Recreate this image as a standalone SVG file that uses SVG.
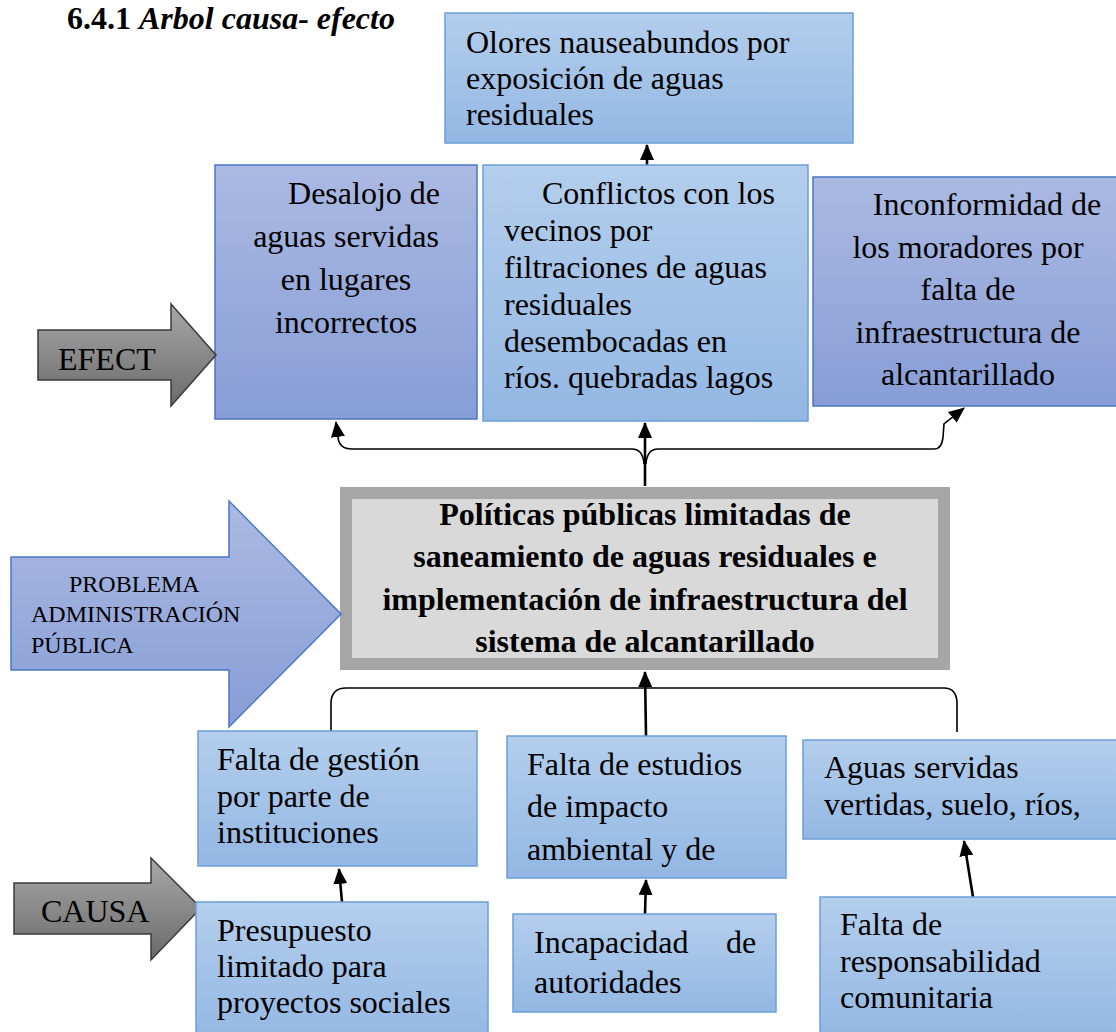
<svg xmlns="http://www.w3.org/2000/svg" width="1116" height="1032" viewBox="0 0 1116 1032">
<defs>
<linearGradient id="gLight" x1="0" y1="0" x2="0" y2="1">
<stop offset="0" stop-color="#b4ceec"/><stop offset="1" stop-color="#93b7e3"/>
</linearGradient>
<linearGradient id="gPurple" x1="0" y1="0" x2="0" y2="1">
<stop offset="0" stop-color="#abbae3"/><stop offset="1" stop-color="#879dd6"/>
</linearGradient>
<linearGradient id="gGray" x1="0" y1="0" x2="0" y2="1">
<stop offset="0" stop-color="#a8a8a8"/><stop offset="1" stop-color="#6a6a6a"/>
</linearGradient>
<marker id="ah" viewBox="0 0 16 14" refX="15" refY="7" markerWidth="16" markerHeight="14" markerUnits="userSpaceOnUse" orient="auto">
<path d="M0,0 L16,7 L0,14 z" fill="#000"/>
</marker>
<style>
.t{font-family:"Liberation Serif","Times New Roman",serif;font-size:32px;fill:#000}
.b{font-weight:bold}
.light{fill:url(#gLight);stroke:#6a9fd8;stroke-width:1.5}
.purple{fill:url(#gPurple);stroke:#4a76c6;stroke-width:1.5}
.gray{fill:url(#gGray);stroke:#3a3a3a;stroke-width:1.5}
.c{fill:none;stroke:#000;stroke-width:1.6}
.s{fill:none;stroke:#000;stroke-width:2.6}
.m{text-anchor:middle}
</style>
</defs>
<rect width="1116" height="1032" fill="#ffffff"/>

<text id="title" class="t b" x="67" y="29">6.4.1 <tspan font-style="italic">Arbol causa- efecto</tspan></text>

<g id="connectors">
<path class="s" d="M647,165 L647,145" marker-end="url(#ah)"/>
<path class="s" d="M645,486 L645,423" marker-end="url(#ah)"/>
<path class="c" d="M644,464 Q643,449 632,449 L352,449 Q339,449 338,437 L336,422" marker-end="url(#ah)"/>
<path class="c" d="M646,464 Q647,449 658,449 L934,449 Q942,449 943,437 L944,424 L964,408" marker-end="url(#ah)"/>
<path class="c" d="M331,732 L331,702 Q332,688 346,688 L944,688 Q956,688 957,702 L957,732"/>
<path class="s" d="M646,736 L645,672" marker-end="url(#ah)"/>
<path class="s" d="M342,902 L339,869" marker-end="url(#ah)"/>
<path class="s" d="M645,914 L646,880" marker-end="url(#ah)"/>
<path class="s" d="M973,897 L964,841" marker-end="url(#ah)"/>
</g>

<g id="olores">
<rect class="light" x="445" y="13" width="408" height="130"/>
<text class="t" x="466" y="53">Olores nauseabundos por</text>
<text class="t" x="466" y="89">exposición de aguas</text>
<text class="t" x="466" y="125">residuales</text>
</g>

<g id="desalojo">
<rect class="purple" x="215" y="165" width="262" height="254"/>
<text class="t m" x="364" y="204">Desalojo de</text>
<text class="t m" x="346" y="247">aguas servidas</text>
<text class="t m" x="346" y="290">en lugares</text>
<text class="t m" x="346" y="333">incorrectos</text>
</g>

<g id="conflictos">
<rect class="light" x="483" y="165" width="325" height="256"/>
<text class="t" x="542" y="204">Conflictos con los</text>
<text class="t" x="504" y="241">vecinos por</text>
<text class="t" x="504" y="278">filtraciones de aguas</text>
<text class="t" x="504" y="315">residuales</text>
<text class="t" x="504" y="352">desembocadas en</text>
<text class="t" x="504" y="388">ríos. quebradas lagos</text>
</g>

<g id="inconformidad">
<rect class="purple" x="813" y="177" width="312" height="229"/>
<text class="t m" x="987" y="215">Inconformidad de</text>
<text class="t m" x="968" y="258">los moradores por</text>
<text class="t m" x="968" y="300">falta de</text>
<text class="t m" x="968" y="343">infraestructura de</text>
<text class="t m" x="968" y="385">alcantarillado</text>
</g>

<g id="efect">
<path class="gray" d="M38,330 L171,330 L171,304 L216,355 L171,406 L171,380 L38,380 Z"/>
<text class="t" x="58" y="370">EFECT</text>
</g>

<g id="problema-central">
<rect x="346" y="493" width="598" height="171" fill="#d9d9d9" stroke="#a6a6a6" stroke-width="12"/>
<text class="t b m" x="645" y="525">Políticas públicas limitadas de</text>
<text class="t b m" x="645" y="567">saneamiento de aguas residuales e</text>
<text class="t b m" x="645" y="610">implementación de infraestructura del</text>
<text class="t b m" x="645" y="652">sistema de alcantarillado</text>
</g>

<g id="problema-arrow">
<path class="purple" d="M11,557 L229,557 L229,501 L341,614 L229,727 L229,670 L11,670 Z"/>
<text class="t" style="font-size:24px" x="69" y="592">PROBLEMA</text>
<text class="t" style="font-size:24px" x="31" y="622">ADMINISTRACIÓN</text>
<text class="t" style="font-size:24px" x="31" y="653">PÚBLICA</text>
</g>

<g id="falta-gestion">
<rect class="light" x="198" y="731" width="279" height="135"/>
<text class="t" x="217" y="770">Falta de gestión</text>
<text class="t" x="217" y="807">por parte de</text>
<text class="t" x="217" y="843">instituciones</text>
</g>

<g id="falta-estudios">
<rect class="light" x="507" y="736" width="279" height="142"/>
<text class="t" x="527" y="775">Falta de estudios</text>
<text class="t" x="527" y="817">de impacto</text>
<text class="t" x="527" y="860">ambiental y de</text>
</g>

<g id="aguas-servidas">
<rect class="light" x="803" y="740" width="320" height="99"/>
<text class="t" x="824" y="778">Aguas servidas</text>
<text class="t" x="824" y="815">vertidas, suelo, ríos,</text>
</g>

<g id="causa">
<path class="gray" d="M14,883 L151,883 L151,858 L201,908 L151,960 L151,934 L14,934 Z"/>
<text class="t" x="41" y="922">CAUSA</text>
</g>

<g id="presupuesto">
<rect class="light" x="196" y="902" width="292" height="140"/>
<text class="t" x="217" y="941">Presupuesto</text>
<text class="t" x="217" y="977">limitado para</text>
<text class="t" x="217" y="1013">proyectos sociales</text>
</g>

<g id="incapacidad">
<rect class="light" x="513" y="914" width="263" height="98"/>
<text class="t" x="534" y="953">Incapacidad</text>
<text class="t" x="726" y="953">de</text>
<text class="t" x="534" y="993">autoridades</text>
</g>

<g id="responsabilidad">
<rect class="light" x="820" y="897" width="303" height="145"/>
<text class="t" x="840" y="935">Falta de</text>
<text class="t" x="840" y="972">responsabilidad</text>
<text class="t" x="840" y="1008">comunitaria</text>
</g>
</svg>
